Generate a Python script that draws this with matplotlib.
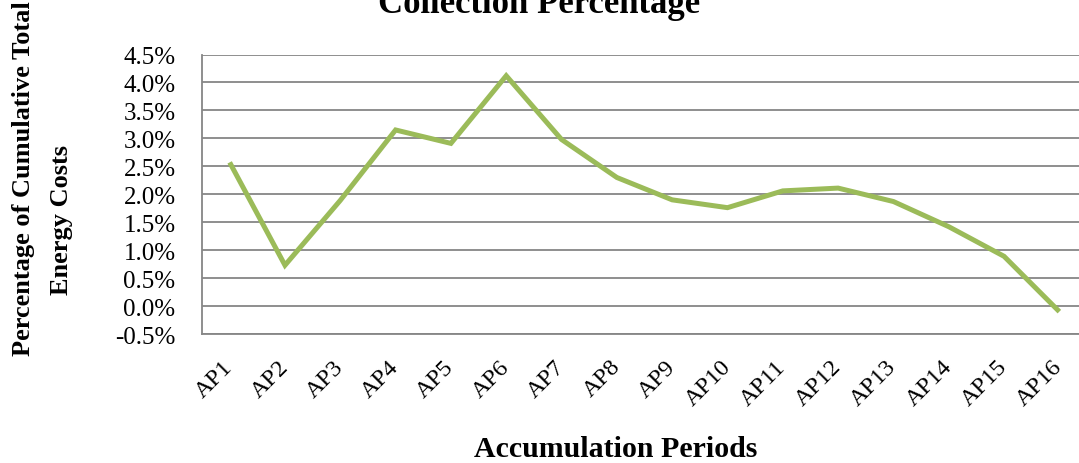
import matplotlib
matplotlib.use("Agg")
import matplotlib.pyplot as plt
from matplotlib.ticker import FuncFormatter, MultipleLocator

categories = ["AP1", "AP2", "AP3", "AP4", "AP5", "AP6", "AP7", "AP8",
              "AP9", "AP10", "AP11", "AP12", "AP13", "AP14", "AP15", "AP16"]
values = [2.57, 0.73, 1.89, 3.15, 2.91, 4.12, 2.98, 2.30,
          1.90, 1.76, 2.06, 2.11, 1.87, 1.42, 0.89, -0.10]
title = "Collection Percentage"
xlabel = "Accumulation Periods"
ylabel_lines = ["Percentage of Cumulative Total", "Energy Costs"]

plt.rcParams["font.family"] = ["Liberation Serif", "DejaVu Serif"]

W, H = 1079, 464
fig = plt.figure(figsize=(W / 100, H / 100), dpi=100)
ax = fig.add_axes([202 / W, 129 / H, 885 / W, 279.5 / H])

x = list(range(len(categories)))
ax.plot(x, values, color="#9BBB59", linewidth=3.6, solid_joinstyle="miter",
        solid_capstyle="butt", zorder=3)

ax.set_xlim(-0.5, len(categories) - 0.5)
ax.set_ylim(-0.5, 4.5)
ax.yaxis.set_major_locator(MultipleLocator(0.5))
ax.yaxis.set_major_formatter(FuncFormatter(lambda v, p: f"{v:.1f}%"))
ax.grid(axis="y", color="#868686", linewidth=1.3)
ax.set_axisbelow(True)
for s in ["top", "right"]:
    ax.spines[s].set_visible(False)
for s in ["left", "bottom"]:
    ax.spines[s].set_color("#868686")
    ax.spines[s].set_linewidth(1.3)
ax.tick_params(axis="both", length=0)
ax.tick_params(axis="y", labelsize=18, pad=19)
ax.set_xticks(x)
ax.set_xticklabels(categories, fontsize=17.5, rotation=45, ha="right",
                   va="center", rotation_mode="anchor")
ax.tick_params(axis="x", pad=21)

fig.text(0.5, 1 - 13 / H, title, ha="center", va="baseline",
         fontsize=25, fontweight="bold")
fig.text(0.5 * (469 + 762) / W, 1 - 457 / H, xlabel, ha="center",
         va="baseline", fontsize=21.5, fontweight="bold")
fig.text(24 / W, 1 - 179 / H, ylabel_lines[0], ha="center", va="center",
         rotation=90, fontsize=19, fontweight="bold")
fig.text(62 / W, 1 - 220 / H, ylabel_lines[1], ha="center", va="center",
         rotation=90, fontsize=19, fontweight="bold")

fig.savefig("out.png", dpi=100)
